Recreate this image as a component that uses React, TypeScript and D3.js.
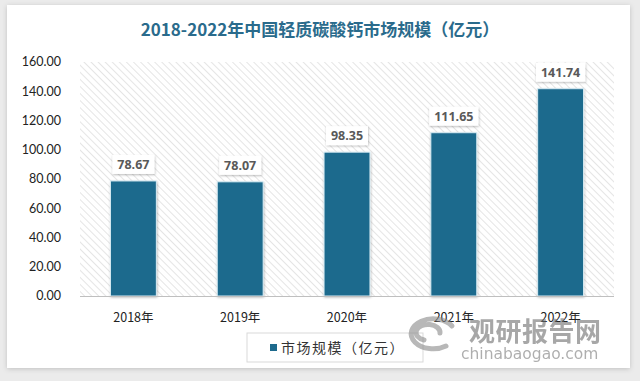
import React from "react";
import * as d3 from "d3";

const categories = ["2018年", "2019年", "2020年", "2021年", "2022年"];
const values = [78.67, 78.07, 98.35, 111.65, 141.74];
const yTicks = [0, 20, 40, 60, 80, 100, 120, 140, 160];
const title = "2018-2022年中国轻质碳酸钙市场规模（亿元）";
const seriesName = "市场规模（亿元）";

const W = 640;
const H = 381;
const plot = { left: 80, right: 614, top: 62, bottom: 296 };
const barColor = "#1d6a8d";

export default function App() {
  const x = d3
    .scaleBand<string>()
    .domain(categories)
    .range([plot.left, plot.right])
    .paddingInner(0.57)
    .paddingOuter(0.285);
  const y = d3.scaleLinear().domain([0, 160]).range([plot.bottom, plot.top]);
  const fmt = d3.format(".2f");

  return (
    <div style={{ position: "absolute", left: 0, top: 0 }}>
      <svg width={W} height={H} style={{ display: "block" }}>
        <defs>
          <pattern id="hatch" width="5" height="5" patternUnits="userSpaceOnUse" patternTransform="rotate(-45)">
            <rect width="5" height="5" fill="#ffffff" />
            <line x1="0" y1="0" x2="0" y2="5" stroke="#dadada" strokeWidth="1.4" />
          </pattern>
          <filter id="panelShadow" x="-5%" y="-5%" width="110%" height="110%">
            <feDropShadow dx="0" dy="1" stdDeviation="2.5" floodColor="#000" floodOpacity="0.18" />
          </filter>
          <filter id="boxShadow" x="-30%" y="-30%" width="160%" height="160%">
            <feDropShadow dx="0.5" dy="1" stdDeviation="1.2" floodColor="#000" floodOpacity="0.28" />
          </filter>
        </defs>
        <rect x={0} y={0} width={W} height={H} fill="#ebebeb" />
        <rect x={7} y={5} width={623} height={363} fill="#ffffff" filter="url(#panelShadow)" />

        <text
          x={320}
          y={36}
          textAnchor="middle"
          fontFamily="'Noto Sans CJK SC', sans-serif"
          fontWeight="bold"
          fontSize={17}
          fill="#2a6b8c"
        >
          {title}
        </text>

        <rect x={plot.left} y={plot.top} width={plot.right - plot.left} height={plot.bottom - plot.top} fill="url(#hatch)" />

        {yTicks.map((t) => (
          <text
            key={t}
            x={61}
            y={y(t)}
            dy="0.35em"
            textAnchor="end"
            fontFamily="Lato, 'Open Sans', sans-serif"
            fontSize={12.5}
            fill="#222"
          >
            {fmt(t)}
          </text>
        ))}

        {categories.map((c, i) => {
          const bx = x(c)!;
          const bw = x.bandwidth();
          const by = y(values[i]);
          const label = fmt(values[i]);
          const bwLabel = label.length * 7.2 + 6;
          const cx = bx + bw / 2;
          return (
            <g key={c}>
              <rect
                x={bx}
                y={by}
                width={bw}
                height={plot.bottom - by}
                fill={barColor}
                stroke="#d8ecf4"
                strokeWidth={1}
                filter="url(#boxShadow)"
              />
              <rect
                x={cx - bwLabel / 2}
                y={by - 26}
                width={bwLabel}
                height={19}
                fill="#ffffff"
                filter="url(#boxShadow)"
              />
              <text
                x={cx}
                y={by - 16.5}
                dy="0.35em"
                textAnchor="middle"
                fontFamily="'Open Sans', 'DejaVu Sans', sans-serif"
                fontWeight="bold"
                fontSize={12.5}
                fill="#595959"
              >
                {label}
              </text>
              <text
                x={cx}
                y={318}
                dy="0.35em"
                textAnchor="middle"
                fontFamily="'Noto Sans CJK SC', sans-serif"
                fontSize={12.5}
                fill="#222"
              >
                {c}
              </text>
            </g>
          );
        })}

        <line x1={plot.left} x2={plot.right} y1={plot.bottom + 0.5} y2={plot.bottom + 0.5} stroke="#bfbfbf" strokeWidth={1} />

        <rect x={247} y={333} width={176} height={29} fill="#ffffff" stroke="#d9d9d9" strokeWidth={1} />
        <rect x={270} y={344} width={7} height={7} fill={barColor} />
        <text
          x={281}
          y={348}
          dy="0.35em"
          fontFamily="'Noto Sans CJK SC', sans-serif"
          fontSize={14}
          letterSpacing={1.5}
          fill="#333"
        >
          {seriesName}
        </text>

        <g opacity={0.6}>
          <path
            d="M 452 326 A 22 15 0 1 0 446 346 M 440 333 A 12 8 0 1 0 424 340"
            fill="none"
            stroke="#8a8a8a"
            strokeWidth={5}
            strokeLinecap="round"
          />
          <text x={469} y={341} fontFamily="'Noto Sans CJK SC', sans-serif" fontWeight="bold" fontSize={26} letterSpacing={0.5} fill="#6e6e6e">
            观研报告网
          </text>
          <text x={461} y={359} fontFamily="'DejaVu Sans', sans-serif" fontSize={15.5} fill="#7a7a7a">
            chinabaogao.com
          </text>
        </g>
      </svg>
    </div>
  );
}
